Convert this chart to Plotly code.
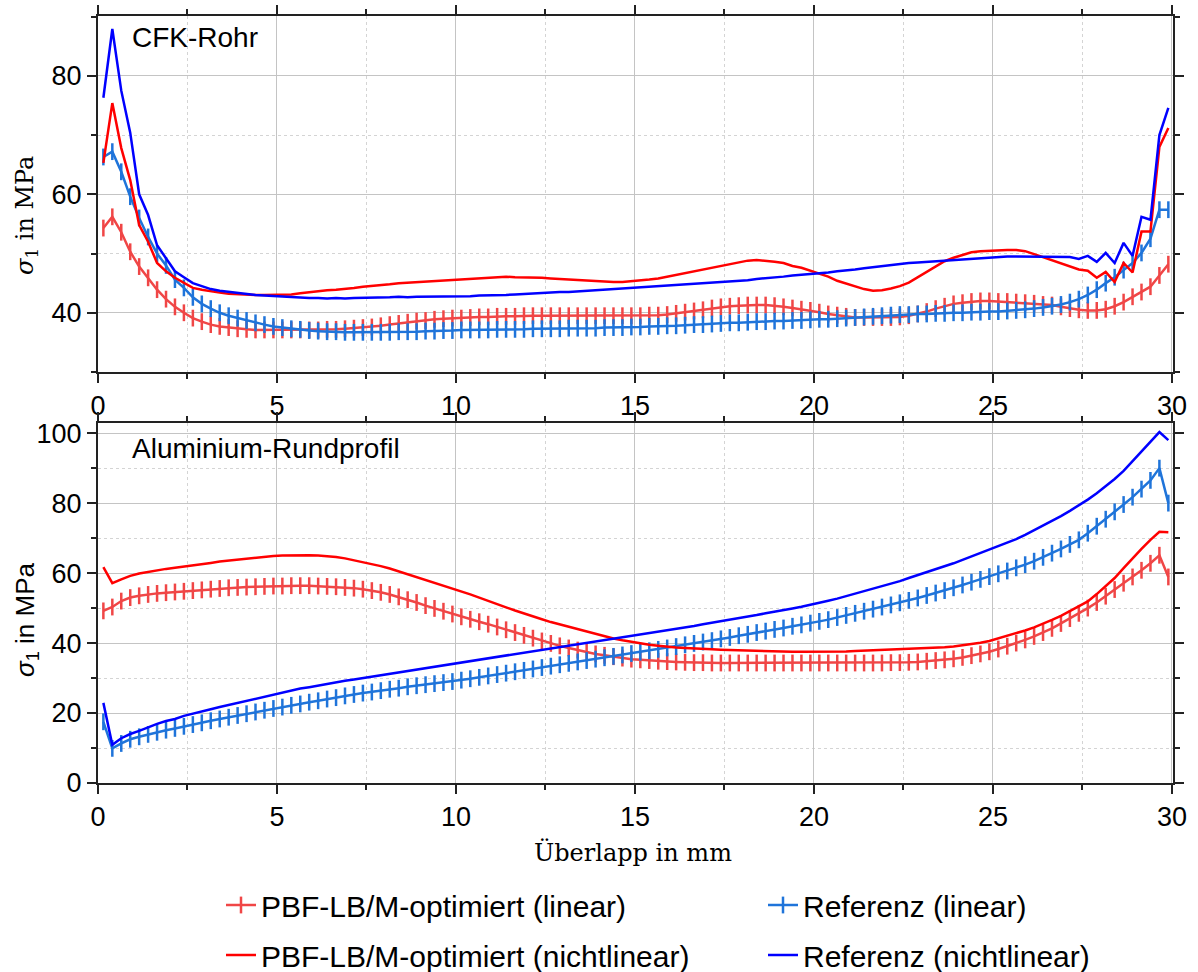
import plotly.graph_objects as go

# sampling grid of the simulation results (mm)
x_mm = [round(0.15 + 0.25 * i, 2) for i in range(120)]

# ---------- CFK-Rohr (top) ----------
cfk_pbf_lin = [54.3, 56.2, 53.6, 50.3, 47.8, 45.9, 43.9, 42.3, 41.0, 40.0,
               39.1, 38.5, 38.0, 37.7, 37.5, 37.3, 37.2, 37.1, 37.1, 37.1,
               37.1, 37.1, 37.1, 37.1, 37.1, 37.2, 37.2, 37.3, 37.4, 37.5,
               37.6, 37.8, 38.0, 38.2, 38.4, 38.6, 38.7, 38.9, 39.0, 39.1,
               39.1, 39.2, 39.3, 39.3, 39.4, 39.4, 39.4, 39.5, 39.5, 39.5,
               39.5, 39.5, 39.5, 39.5, 39.5, 39.5, 39.5, 39.5, 39.5, 39.5,
               39.5, 39.6, 39.6, 39.7, 39.9, 40.1, 40.3, 40.5, 40.8, 41.0,
               41.1, 41.2, 41.3, 41.3, 41.3, 41.2, 41.0, 40.8, 40.6, 40.4,
               40.1, 39.8, 39.6, 39.4, 39.2, 39.2, 39.2, 39.2, 39.2, 39.3,
               39.5, 39.8, 40.2, 40.7, 41.1, 41.5, 41.7, 41.9, 42.0, 42.0,
               41.9, 41.9, 41.8, 41.7, 41.6, 41.4, 41.3, 41.0, 40.7, 40.5,
               40.4, 40.4, 40.6, 41.1, 41.8, 42.7, 43.5, 44.4, 46.3, 48.2]

cfk_ref_lin = [66.3, 67.2, 63.8, 59.6, 56.0, 52.8, 50.0, 48.0, 45.6, 44.2,
               42.6, 41.5, 40.7, 40.0, 39.5, 39.1, 38.7, 38.3, 38.0, 37.7,
               37.5, 37.3, 37.2, 37.0, 36.9, 36.8, 36.8, 36.7, 36.7, 36.7,
               36.7, 36.7, 36.7, 36.8, 36.8, 36.8, 36.9, 36.9, 37.0, 37.0,
               37.1, 37.1, 37.1, 37.1, 37.2, 37.2, 37.2, 37.2, 37.3, 37.3,
               37.3, 37.3, 37.4, 37.4, 37.4, 37.4, 37.5, 37.5, 37.5, 37.6,
               37.6, 37.7, 37.7, 37.8, 37.8, 37.9, 38.0, 38.0, 38.1, 38.2,
               38.3, 38.3, 38.4, 38.5, 38.5, 38.6, 38.6, 38.7, 38.7, 38.8,
               38.9, 38.9, 39.0, 39.1, 39.2, 39.3, 39.4, 39.5, 39.6, 39.7,
               39.7, 39.8, 39.8, 39.9, 39.9, 40.0, 40.0, 40.1, 40.1, 40.2,
               40.2, 40.3, 40.4, 40.5, 40.7, 40.9, 41.1, 41.4, 41.8, 42.3,
               43.0, 43.9, 45.0, 46.0, 47.2, 48.4, 50.1, 52.5, 57.4, 57.4]

cfk_pbf_nl = [65.3, 75.4, 67.8, 62.4, 54.8, 52.0, 48.4, 47.0, 45.9, 45.0,
              44.2, 43.9, 43.6, 43.4, 43.2, 43.1, 43.0, 43.0, 43.0, 43.0,
              43.0, 43.1, 43.3, 43.5, 43.6, 43.8, 43.9, 44.0, 44.2, 44.4,
              44.5, 44.7, 44.8, 45.0, 45.1, 45.2, 45.3, 45.4, 45.5, 45.6,
              45.6, 45.7, 45.8, 45.9, 46.0, 46.1, 46.0, 46.0, 45.9, 45.9,
              45.8, 45.7, 45.6, 45.5, 45.4, 45.4, 45.3, 45.2, 45.2, 45.3,
              45.4, 45.6, 45.8, 46.1, 46.4, 46.7, 47.1, 47.4, 47.7, 48.0,
              48.3, 48.6, 48.8, 48.9, 48.8, 48.6, 48.4, 47.9, 47.6, 47.1,
              46.6, 46.1, 45.4, 44.9, 44.4, 44.0, 43.7, 43.8, 44.1, 44.5,
              45.1, 46.0, 47.0, 47.9, 48.7, 49.3, 49.8, 50.2, 50.4, 50.5,
              50.6, 50.6, 50.6, 50.4, 49.9, 49.4, 48.9, 48.4, 47.9, 47.3,
              47.1, 45.9, 46.9, 45.2, 48.4, 46.8, 53.7, 53.7, 68.0, 71.2]

cfk_ref_nl = [76.3, 87.9, 77.5, 70.4, 60.0, 56.5, 51.4, 49.3, 47.0, 46.0,
              45.0, 44.5, 44.0, 43.7, 43.5, 43.3, 43.1, 43.0, 42.9, 42.8,
              42.7, 42.6, 42.6, 42.5, 42.5, 42.4, 42.5, 42.4, 42.5, 42.5,
              42.6, 42.6, 42.6, 42.7, 42.6, 42.7, 42.7, 42.7, 42.8, 42.7,
              42.8, 42.8, 42.9, 42.9, 43.0, 43.0, 43.1, 43.2, 43.2, 43.3,
              43.4, 43.5, 43.5, 43.6, 43.7, 43.8, 43.8, 43.9, 44.0, 44.1,
              44.2, 44.3, 44.4, 44.5, 44.6, 44.7, 44.8, 44.9, 45.0, 45.1,
              45.2, 45.4, 45.5, 45.7, 45.8, 46.0, 46.1, 46.3, 46.4, 46.5,
              46.7, 46.8, 47.0, 47.1, 47.3, 47.5, 47.7, 47.9, 48.1, 48.3,
              48.4, 48.5, 48.6, 48.7, 48.8, 48.9, 49.0, 49.2, 49.3, 49.4,
              49.5, 49.5, 49.5, 49.5, 49.5, 49.5, 49.5, 49.5, 49.4, 49.1,
              49.6, 48.6, 50.1, 48.4, 51.8, 49.6, 56.2, 55.7, 70.0, 74.6]

# ---------- Aluminium-Rundprofil (bottom) ----------
alu_pbf_lin = [49.2, 50.3, 52.0, 53.0, 53.5, 53.9, 54.2, 54.4, 54.6, 54.8,
               55.0, 55.2, 55.4, 55.6, 55.8, 55.9, 56.0, 56.1, 56.2, 56.3,
               56.3, 56.4, 56.4, 56.4, 56.3, 56.2, 56.1, 55.9, 55.7, 55.4,
               55.0, 54.5, 53.9, 53.2, 52.4, 51.6, 50.7, 49.9, 49.1, 48.3,
               47.5, 46.8, 46.1, 45.4, 44.6, 43.8, 43.0, 42.2, 41.4, 40.6,
               39.9, 39.2, 38.6, 38.0, 37.4, 36.9, 36.5, 36.1, 35.7, 35.4,
               35.2, 35.0, 34.8, 34.7, 34.6, 34.5, 34.4, 34.4, 34.3, 34.3,
               34.3, 34.3, 34.3, 34.3, 34.3, 34.3, 34.3, 34.3, 34.3, 34.3,
               34.3, 34.3, 34.3, 34.3, 34.3, 34.3, 34.3, 34.3, 34.4, 34.4,
               34.5, 34.6, 34.8, 35.0, 35.2, 35.5, 35.9, 36.4, 36.9, 37.5,
               38.3, 39.1, 40.0, 40.9, 41.9, 43.0, 44.2, 45.6, 47.0, 48.5,
               50.0, 51.6, 53.4, 55.3, 57.1, 58.9, 60.8, 62.8, 65.1, 58.9]

alu_ref_lin = [17.5, 9.9, 11.3, 12.5, 13.2, 13.9, 14.5, 15.1, 15.6, 16.2,
               16.7, 17.2, 17.8, 18.3, 18.8, 19.3, 19.8, 20.3, 20.8, 21.3,
               21.7, 22.2, 22.6, 23.1, 23.5, 24.0, 24.4, 24.9, 25.3, 25.7,
               26.0, 26.4, 26.8, 27.1, 27.5, 27.8, 28.1, 28.4, 28.7, 29.0,
               29.4, 29.8, 30.2, 30.6, 31.0, 31.4, 31.8, 32.2, 32.6, 33.0,
               33.4, 33.8, 34.2, 34.6, 35.0, 35.4, 35.8, 36.2, 36.6, 37.0,
               37.4, 37.8, 38.2, 38.6, 39.0, 39.5, 39.9, 40.3, 40.7, 41.2,
               41.6, 42.1, 42.5, 43.0, 43.4, 43.9, 44.3, 44.8, 45.2, 45.7,
               46.2, 46.7, 47.3, 47.9, 48.5, 49.1, 49.7, 50.3, 50.9, 51.5,
               52.2, 52.9, 53.6, 54.3, 55.0, 55.8, 56.6, 57.4, 58.2, 59.0,
               59.8, 60.6, 61.5, 62.4, 63.4, 64.5, 65.7, 66.9, 68.2, 69.5,
               71.4, 73.4, 75.4, 77.5, 79.6, 81.7, 84.0, 86.5, 90.0, 80.0]

alu_pbf_nl = [61.7, 57.1, 58.2, 59.2, 59.9, 60.4, 60.8, 61.2, 61.5, 61.8,
              62.2, 62.5, 62.9, 63.3, 63.6, 63.9, 64.2, 64.5, 64.7, 64.9,
              65.0, 65.1, 65.1, 65.1, 65.0, 64.9, 64.6, 64.2, 63.7, 63.2,
              62.6, 62.0, 61.3, 60.5, 59.7, 58.9, 58.1, 57.3, 56.5, 55.6,
              54.8, 53.9, 53.0, 52.0, 51.1, 50.2, 49.3, 48.4, 47.6, 46.8,
              46.0, 45.3, 44.6, 43.9, 43.2, 42.6, 41.9, 41.3, 40.8, 40.3,
              39.9, 39.5, 39.2, 38.9, 38.7, 38.6, 38.4, 38.3, 38.2, 38.1,
              38.0, 37.9, 37.8, 37.7, 37.7, 37.6, 37.6, 37.5, 37.5, 37.5,
              37.4, 37.5, 37.5, 37.6, 37.7, 37.8, 37.9, 38.0, 38.1, 38.3,
              38.4, 38.5, 38.6, 38.7, 38.8, 39.0, 39.3, 39.7, 40.1, 40.6,
              41.3, 42.0, 42.8, 43.6, 44.5, 45.5, 46.6, 47.8, 49.1, 50.5,
              51.9, 54.0, 56.3, 58.6, 61.4, 64.3, 66.9, 69.5, 71.8, 71.7]

alu_ref_nl = [22.9, 10.9, 12.8, 14.0, 14.9, 16.0, 16.9, 17.7, 18.3, 19.2,
              19.9, 20.5, 21.1, 21.7, 22.3, 22.9, 23.5, 24.1, 24.7, 25.4,
              26.0, 26.5, 27.0, 27.4, 27.9, 28.3, 28.8, 29.2, 29.6, 30.0,
              30.4, 30.8, 31.3, 31.7, 32.1, 32.5, 32.9, 33.3, 33.7, 34.1,
              34.5, 34.9, 35.3, 35.7, 36.1, 36.5, 36.9, 37.3, 37.6, 38.0,
              38.4, 38.8, 39.2, 39.5, 39.9, 40.3, 40.7, 41.1, 41.5, 41.9,
              42.3, 42.7, 43.1, 43.6, 44.0, 44.5, 44.9, 45.4, 45.8, 46.3,
              46.7, 47.1, 47.6, 48.0, 48.5, 48.9, 49.4, 49.9, 50.4, 50.9,
              51.5, 52.1, 52.7, 53.4, 54.1, 54.8, 55.5, 56.2, 56.9, 57.7,
              58.6, 59.4, 60.2, 61.1, 61.9, 62.8, 63.8, 64.8, 65.8, 66.8,
              67.6, 68.6, 69.7, 70.9, 72.2, 73.5, 74.9, 76.3, 77.8, 79.3,
              81.0, 82.8, 84.8, 86.9, 89.2, 91.9, 94.6, 97.3, 100.3, 98.0]

names = ["PBF-LB/M-optimiert (linear)", "Referenz (linear)",
         "PBF-LB/M-optimiert (nichtlinear)", "Referenz (nichtlinear)"]
colors = ["#F04646", "#1F74DA", "#FF0000", "#0000FF"]
is_linear = [True, True, False, False]
legends = ["legend", "legend2", "legend3", "legend4"]

top_series = [cfk_pbf_lin, cfk_ref_lin, cfk_pbf_nl, cfk_ref_nl]
bot_series = [alu_pbf_lin, alu_ref_lin, alu_pbf_nl, alu_ref_nl]

fig = go.Figure()


def add(series, xa, ya, show):
    for ys, nm, col, lin, lg in zip(series, names, colors, is_linear, legends):
        if lin:
            fig.add_trace(go.Scatter(
                x=x_mm, y=ys, name=nm, xaxis=xa, yaxis=ya,
                mode="lines+markers",
                line=dict(color=col, width=2.5),
                marker=dict(symbol="line-ns-open", size=12,
                            line=dict(color=col, width=2.5)),
                showlegend=show, legend=lg))
        else:
            fig.add_trace(go.Scatter(
                x=x_mm, y=ys, name=nm, xaxis=xa, yaxis=ya,
                mode="lines", line=dict(color=col, width=2.5),
                showlegend=show, legend=lg))


add(top_series, "x", "y", False)
add(bot_series, "x2", "y2", True)

W, H = 1198, 972
SANS = "Liberation Sans, Arial, sans-serif"
SERIF = "DejaVu Serif, serif"
tickfont = dict(family=SANS, size=27, color="#000")

xdom = [98 / W, 1173 / W]
ydom_top = [1 - 372 / H, 1 - 16 / H]
ydom_bot = [1 - 783 / H, 1 - 423 / H]

axis_common = dict(
    ticks="outside", ticklen=9, tickwidth=1.5, tickcolor="#222",
    showline=True, linewidth=2, linecolor="#222", mirror="ticks",
    showgrid=True, gridcolor="#c4c4c4", gridwidth=1, zeroline=False,
    tickfont=tickfont,
)


def minor(dt):
    return dict(dtick=dt, ticks="outside", ticklen=5, tickwidth=1.5,
                tickcolor="#222", showgrid=True, gridcolor="#d4d4d4",
                griddash="dot", gridwidth=1)


def leg(xpx, ypx):
    return dict(orientation="h", x=xpx / W, xanchor="left",
                y=1 - ypx / H, yanchor="middle",
                font=dict(family=SANS, size=30, color="#000"),
                bgcolor="rgba(0,0,0,0)", borderwidth=0)


fig.update_layout(
    width=W, height=H,
    margin=dict(l=0, r=0, t=0, b=0, autoexpand=False),
    paper_bgcolor="white", plot_bgcolor="white",
    xaxis=dict(domain=xdom, anchor="y", range=[0, 30.03], tick0=0, dtick=5,
               minor=minor(2.5), **axis_common),
    yaxis=dict(domain=ydom_top, anchor="x", range=[30, 90.1], tick0=0, dtick=20,
               minor=minor(10), **axis_common),
    xaxis2=dict(domain=xdom, anchor="y2", range=[0, 30.03], tick0=0, dtick=5,
                minor=minor(2.5), **axis_common),
    yaxis2=dict(domain=ydom_bot, anchor="x2", range=[0, 102.9], tick0=0, dtick=20,
                minor=minor(10), **axis_common),
    legend=leg(221, 905),
    legend2=leg(763, 905),
    legend3=leg(221, 955),
    legend4=leg(763, 955),
    annotations=[
        dict(text="CFK-Rohr", xref="paper", yref="paper", x=130 / W, y=1 - 38 / H,
             xanchor="left", yanchor="middle", showarrow=False,
             font=dict(family=SANS, size=28, color="#000")),
        dict(text="Aluminium-Rundprofil", xref="paper", yref="paper",
             x=130 / W, y=1 - 448 / H, xanchor="left", yanchor="middle",
             showarrow=False, font=dict(family=SANS, size=28, color="#000")),
        dict(text="<i>σ</i><sub>1</sub> in MPa", xref="paper", yref="paper",
             x=26 / W, y=1 - 216 / H, xanchor="center", yanchor="middle",
             textangle=-90, showarrow=False,
             font=dict(family=SERIF, size=24, color="#000")),
        dict(text="<i>σ</i><sub>1</sub> in MPa", xref="paper", yref="paper",
             x=26 / W, y=1 - 620 / H, xanchor="center", yanchor="middle",
             textangle=-90, showarrow=False,
             font=dict(family=SANS, size=26, color="#000")),
        dict(text="Überlapp in mm", xref="paper", yref="paper",
             x=633 / W, y=1 - 852 / H, xanchor="center", yanchor="middle",
             showarrow=False, font=dict(family=SERIF, size=24, color="#000")),
    ],
)

fig.write_html("out.html")
